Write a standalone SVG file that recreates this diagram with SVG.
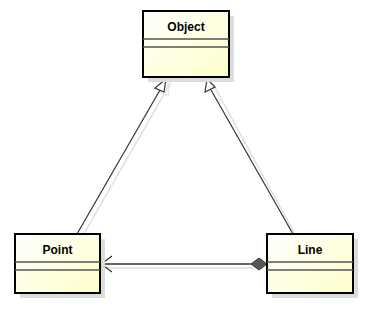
<svg xmlns="http://www.w3.org/2000/svg" width="391" height="312" viewBox="0 0 391 312">
<style>
.box{fill:url(#g);stroke:#000;stroke-width:2}
.sh{fill:#dcdcdc}
.cmp{stroke:#555;stroke-width:1.5}
.lbl{font-family:"Liberation Sans",Arial,sans-serif;font-size:12px;font-weight:bold;text-anchor:middle;fill:#000}
.conn{stroke:#333;stroke-width:1.2;fill:none}
.cs{stroke:#ddd;stroke-width:1.5;fill:none}
.tri{fill:#fff;stroke:#333;stroke-width:1.2}
</style>
<defs>
<linearGradient id="g" x1="0" y1="0" x2="1" y2="1">
<stop offset="0" stop-color="#ffffff"/>
<stop offset="1" stop-color="#ffffc8"/>
</linearGradient>
</defs>
<rect width="391" height="312" fill="#fff"/>
<g id="connectors">
<line class="cs" x1="82" y1="237" x2="170" y2="84"/>
<line class="cs" x1="297" y1="238" x2="213" y2="84"/>
<line class="cs" x1="103" y1="268" x2="255" y2="268"/>
<polygon points="170,83 160,92 168,96" fill="none" stroke="#e4e4e4" stroke-width="1.2"/>
<line class="conn" x1="77" y1="234" x2="160" y2="90"/>
<polygon class="tri" points="166,79 155,88 164,92"/>
<line class="conn" x1="293" y1="234" x2="211" y2="90"/>
<polygon class="tri" points="207,79 205,92 215,87"/>
<line x1="101" y1="264" x2="251" y2="264" stroke="#666" stroke-width="2"/>
<polyline class="conn" points="112,256 101,264 112,272"/>
<polygon points="251,264 259,258 267,264 259,270" fill="#555" stroke="#333" stroke-width="1"/>
</g>
<g id="Object">
<rect class="sh" x="148" y="16" width="86" height="66"/>
<rect class="box" x="143" y="11" width="86" height="66"/>
<line class="cmp" x1="143" y1="39" x2="229" y2="39"/>
<line class="cmp" x1="143" y1="47" x2="229" y2="47"/>
<text class="lbl" x="186" y="31">Object</text>
</g>
<g id="Point">
<rect class="sh" x="20" y="239" width="85" height="59"/>
<rect class="box" x="15" y="234" width="85" height="59"/>
<line class="cmp" x1="15" y1="262" x2="100" y2="262"/>
<line class="cmp" x1="15" y1="270" x2="100" y2="270"/>
<text class="lbl" x="57.5" y="254">Point</text>
</g>
<g id="Line">
<rect class="sh" x="272" y="239" width="86" height="59"/>
<rect class="box" x="267" y="234" width="86" height="59"/>
<line class="cmp" x1="267" y1="262" x2="353" y2="262"/>
<line class="cmp" x1="267" y1="270" x2="353" y2="270"/>
<text class="lbl" x="310" y="254">Line</text>
</g>
</svg>
